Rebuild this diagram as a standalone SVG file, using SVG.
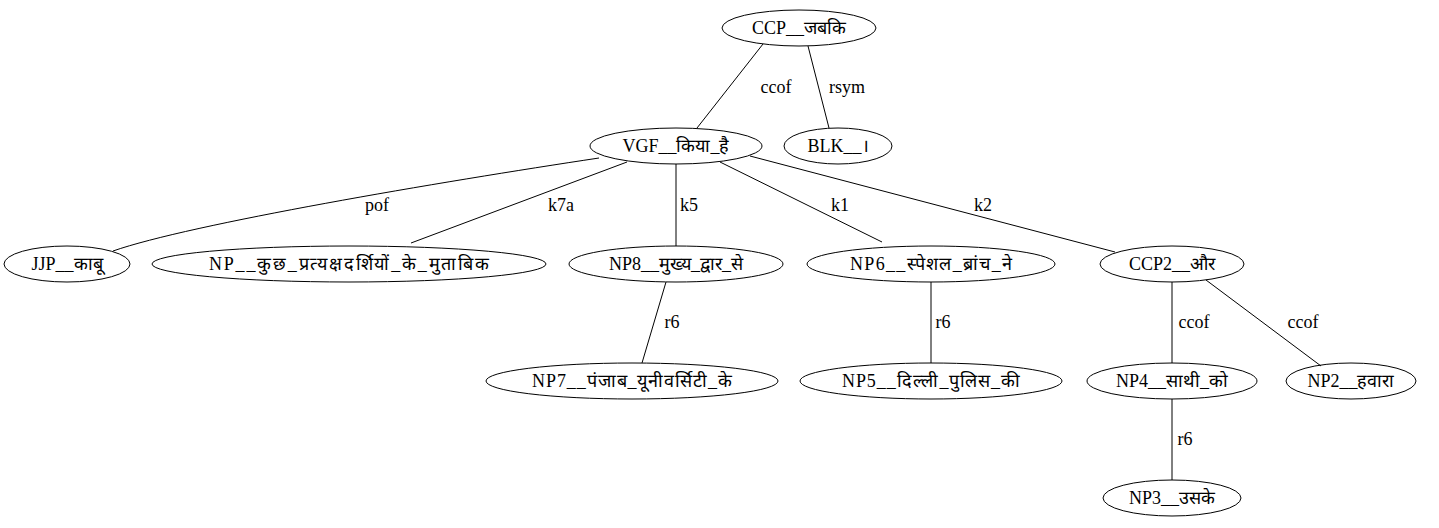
<svg xmlns="http://www.w3.org/2000/svg" width="1439" height="528" viewBox="0 0 1439 528">
  <style>
    .node ellipse { fill: none; stroke: #000; stroke-width: 1; }
    .edges path { fill: none; stroke: #000; stroke-width: 1; }
    .node text { text-anchor: middle; }
    .elabel { text-anchor: middle; }
    text { font-family: 'Liberation Serif', serif; font-size: 18px; fill: #000; }
  </style>
  <rect width="1439" height="528" fill="#fff"/>

  <!-- tree edges with their relation labels -->
  <g class="edges">
    <path d="M763,44 L697,128"/>
    <text class="elabel" x="776" y="93">ccof</text>
    <path d="M808,46 L829,128"/>
    <text class="elabel" x="847" y="93">rsym</text>
    <path d="M599,158 C440,182 190,224 113,251"/>
    <text class="elabel" x="377" y="211">pof</text>
    <path d="M627,162 L411,243"/>
    <text class="elabel" x="561" y="211">k7a</text>
    <path d="M676,164 L676,246"/>
    <text class="elabel" x="689" y="211">k5</text>
    <path d="M720,162 L882,242"/>
    <text class="elabel" x="840" y="211">k1</text>
    <path d="M750,156 L1115,252"/>
    <text class="elabel" x="983" y="211">k2</text>
    <path d="M666,282 L642,363"/>
    <text class="elabel" x="672" y="328">r6</text>
    <path d="M931,282 L931,363"/>
    <text class="elabel" x="943" y="328">r6</text>
    <path d="M1172,282 L1172,363"/>
    <text class="elabel" x="1194" y="328">ccof</text>
    <path d="M1206,280 L1321,366"/>
    <text class="elabel" x="1303" y="328">ccof</text>
    <path d="M1172,399 L1172,480"/>
    <text class="elabel" x="1185" y="445">r6</text>
  </g>

  <g id="ccp" class="node">
    <ellipse cx="799" cy="28" rx="77" ry="18"/>
    <text x="799" y="34">CCP__जबकि</text>
  </g>
  <g id="vgf" class="node">
    <ellipse cx="676" cy="146" rx="86" ry="18"/>
    <text x="676" y="152">VGF__किया_है</text>
  </g>
  <g id="blk" class="node">
    <ellipse cx="838" cy="146" rx="54" ry="18"/>
    <text x="838" y="152">BLK__।</text>
  </g>
  <g id="jjp" class="node">
    <ellipse cx="67" cy="264" rx="63" ry="18"/>
    <text x="67" y="270">JJP__काबू</text>
  </g>
  <g id="np" class="node">
    <ellipse cx="349" cy="264" rx="197" ry="18"/>
    <text x="349" y="270" textLength="280" lengthAdjust="spacing">NP__कुछ_प्रत्यक्षदर्शियों_के_मुताबिक</text>
  </g>
  <g id="np8" class="node">
    <ellipse cx="676" cy="264" rx="107" ry="18"/>
    <text x="676" y="270">NP8__मुख्य_द्वार_से</text>
  </g>
  <g id="np6" class="node">
    <ellipse cx="931" cy="264" rx="124" ry="18"/>
    <text x="931" y="270" textLength="162" lengthAdjust="spacing">NP6__स्पेशल_ब्रांच_ने</text>
  </g>
  <g id="ccp2" class="node">
    <ellipse cx="1172" cy="264" rx="72" ry="18"/>
    <text x="1172" y="270">CCP2__और</text>
  </g>
  <g id="np7" class="node">
    <ellipse cx="632" cy="381" rx="146" ry="18"/>
    <text x="632" y="387" textLength="200" lengthAdjust="spacing">NP7__पंजाब_यूनीवर्सिटी_के</text>
  </g>
  <g id="np5" class="node">
    <ellipse cx="931" cy="381" rx="131" ry="18"/>
    <text x="931" y="387" textLength="178" lengthAdjust="spacing">NP5__दिल्ली_पुलिस_की</text>
  </g>
  <g id="np4" class="node">
    <ellipse cx="1172" cy="381" rx="85" ry="18"/>
    <text x="1172" y="387">NP4__साथी_को</text>
  </g>
  <g id="np2" class="node">
    <ellipse cx="1351" cy="381" rx="65" ry="18"/>
    <text x="1351" y="387">NP2__हवारा</text>
  </g>
  <g id="np3" class="node">
    <ellipse cx="1172" cy="498" rx="69" ry="18"/>
    <text x="1172" y="504">NP3__उसके</text>
  </g>
</svg>
